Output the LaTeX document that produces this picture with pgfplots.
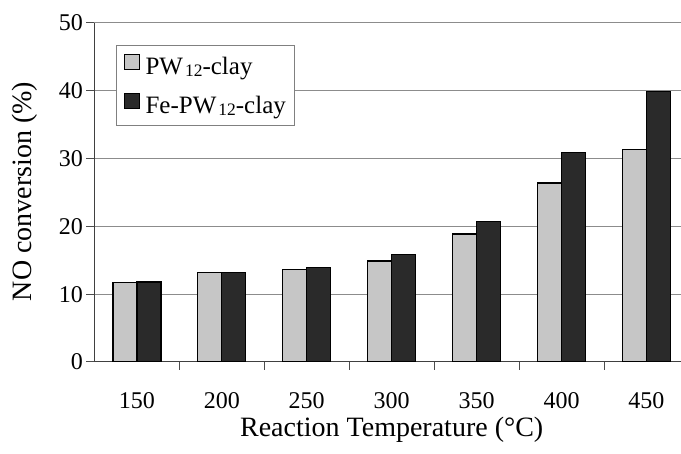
\documentclass[border=0pt]{standalone}
\usepackage{pgfplots}
\pgfplotsset{compat=1.18}
\usepackage{fontspec}
\setmainfont{Liberation Serif}
\definecolor{pwgray}{HTML}{C6C6C6}
\definecolor{fedark}{HTML}{2A2A2A}
\definecolor{gridgray}{HTML}{8C8C8C}
\begin{document}
\begin{tikzpicture}
\path[use as bounding box] (0,0) rectangle (681pt,454pt);
\begin{axis}[
  at={(94.4pt,92pt)}, anchor=south west,
  scale only axis, width=590.3pt, height=339pt,
  xmin=-0.5, xmax=6.45, ymin=0, ymax=50,
  axis lines=left,
  axis line style={-, draw=black!75, line width=1pt},
  ytick={0,10,...,50},
  xtick={0.5,1.5,2.5,3.5,4.5,5.5},
  xticklabels={},
  extra x ticks={0,1,2,3,4,5,6},
  extra x tick labels={150,200,250,300,350,400,450},
  extra x tick style={major tick length=0pt},
  tick align=outside,
  major tick length=8pt,
  tick style={black!70, line width=1pt},
  ymajorgrids,
  grid style={gridgray, line width=1pt},
  /pgf/number format/assume math mode=true,
  tick label style={font=\fontsize{24}{28}\selectfont},
  xticklabel style={anchor=base, yshift=-47pt},
  xlabel={Reaction Temperature (°C)},
  ylabel={NO conversion (\%)},
  label style={font=\fontsize{28}{32}\selectfont},
  xlabel style={at={(axis description cs:0.5036,-0.2204)}, anchor=base},
  ylabel style={at={(axis description cs:-0.1062,0.503)}, anchor=base},
  ybar=0pt, bar width=24pt,
  legend style={at={(axis description cs:0.0366,0.935)}, anchor=north west,
    draw=gray, line width=0.8pt, fill=white,
    inner xsep=7.5pt, inner ysep=9pt, row sep=16pt,
    font=\fontsize{25}{30}\selectfont,
    nodes={inner sep=1.5pt}},
  legend cell align=left,
  legend image code/.code={\draw[#1,line width=1pt] (0pt,-3.5pt) rectangle (15pt,11.5pt); \path (19pt,0pt);},
]
\addplot[fill=pwgray, draw=black, line width=1.3pt] coordinates {
  (0,11.7) (1,13.2) (2,13.6) (3,14.9) (4,18.9) (5,26.4) (6,31.3)};
\addlegendentry{PW\kern2pt\raisebox{-2pt}{\fontsize{17.5}{18}\selectfont 12}-clay}
\addplot[fill=fedark, draw=black, line width=1.3pt] coordinates {
  (0,11.8) (1,13.2) (2,13.9) (3,15.9) (4,20.7) (5,30.9) (6,39.9)};
\addlegendentry{Fe-PW\kern2pt\raisebox{-2pt}{\fontsize{17.5}{18}\selectfont 12}-clay}
\end{axis}
\end{tikzpicture}
\end{document}
